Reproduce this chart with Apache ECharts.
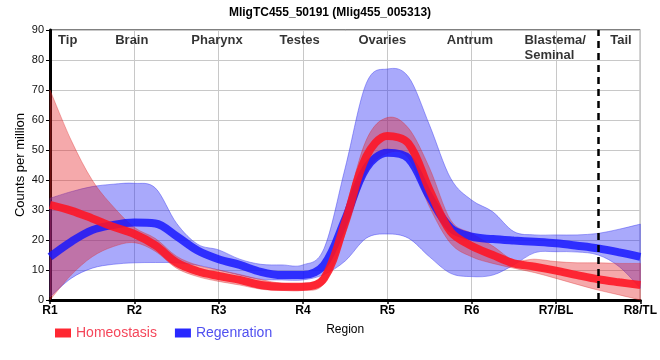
<!DOCTYPE html>
<html>
<head>
<meta charset="utf-8">
<script src="https://cdn.jsdelivr.net/npm/echarts@6/dist/echarts.min.js"></script>
<style>html,body{margin:0;padding:0;background:#fff}#c{width:660px;height:360px}</style>
</head>
<body>
<div id="c"></div>
<script>
// positions along the body (R1 = 0 ... R8 = 7)
const tPos = [0,0.25,0.5,0.75,1,1.25,1.5,1.75,2,2.25,2.5,2.75,3,3.25,3.5,3.75,4,4.25,4.5,4.75,5,5.25,5.5,5.75,6,6.25,6.5,6.75,7];
const xLabels = ['R1','R2','R3','R4','R5','R6','R7/BL','R8/TL'];
const homeo   = [31.7,29.8,27.2,24.4,22.0,18.2,12.5,9.6,8.0,6.7,5.0,4.4,4.4,7.2,26,47.8,54.7,52.2,36.7,22.8,18.0,15.0,12.2,11.1,9.8,8.3,6.9,5.9,5.0];
const homeoUp = [70,53.3,40,31.1,24.2,20.5,14.6,11.6,10.0,8.5,6.8,5.6,5.6,9.0,30,53.3,60.8,57.3,44,26.7,22.2,18.0,13.3,13.6,12.8,12.4,12.4,12.2,12.2];
const homeoLo = [0,8.3,14.4,17.8,19.1,16.2,10.6,7.8,6.2,5.0,3.6,3.2,3.2,5.5,22,42.3,48.9,47.3,31,18.9,14.4,12.2,10.6,9.1,7.2,5.2,3.3,1.7,0];
const regen   = [14.4,19.4,23.3,25.0,25.8,25.5,21.3,16.5,13.6,11.7,9.4,8.3,8.3,11.7,27,44,49.1,47.2,34.4,24,21.1,20.3,19.8,19.4,18.9,18.1,17.2,15.9,14.4];
const regenUp = [33.9,36.1,37.8,38.6,38.9,37.3,25.6,18.6,16.7,13.6,11.9,11.7,11.7,17.2,44,72.2,77,74.4,58.3,40.6,33.3,29.4,22.8,21.7,21.7,21.7,22.2,23.6,25.3];
const regenLo = [1,7.2,10.6,11.9,12.4,12.5,12.4,11.6,10.0,8.3,6.9,6.7,6.7,8.5,13,20.6,22,20.6,14.4,8.9,7.8,8.3,11.7,15.8,16.1,16.0,15.0,11.1,3.9];
const regionNames = ['Tip','Brain','Pharynx','Testes','Ovaries','Antrum','Blastema/\nSeminal','Tail'];
const regionPos   = [0.21,0.97,1.98,2.96,3.94,4.98,5.65,6.77];
const tailBoundary = 6.5;

const RED = 'rgba(255,20,35,0.88)';
const BLUE = 'rgba(20,20,255,0.82)';
const RED_BAND = 'rgba(228,30,35,0.38)';
const BLUE_BAND = 'rgba(40,40,245,0.40)';
const FONT = 'Liberation Sans, Arial, sans-serif';

const pair = (arr) => arr.map((v,i)=>[tPos[i], v]);

// smooth open curve through pixel points (cardinal spline as bezier segments)
function curveSegs(p, k) {
  let s = '';
  const n = p.length;
  for (let i = 0; i < n - 1; i++) {
    const p0 = p[Math.max(i - 1, 0)], p1 = p[i], p2 = p[i + 1], p3 = p[Math.min(i + 2, n - 1)];
    const c1x = p1[0] + (p2[0] - p0[0]) * k, c1y = p1[1] + (p2[1] - p0[1]) * k;
    const c2x = p2[0] - (p3[0] - p1[0]) * k, c2y = p2[1] - (p3[1] - p1[1]) * k;
    s += 'C' + c1x.toFixed(2) + ' ' + c1y.toFixed(2) + ' ' + c2x.toFixed(2) + ' ' + c2y.toFixed(2) + ' ' + p2[0].toFixed(2) + ' ' + p2[1].toFixed(2);
  }
  return s;
}

function bandSeries(name, up, lo, fill, stroke, z) {
  return {
    name: name, type: 'custom', silent: true, z: z,
    data: [[0, 0]],
    renderItem: function (params, api) {
      const top = [], bot = [];
      for (let i = 0; i < tPos.length; i++) top.push(api.coord([tPos[i], up[i]]));
      for (let i = tPos.length - 1; i >= 0; i--) bot.push(api.coord([tPos[i], lo[i]]));
      const k = 0.17;
      const d = 'M' + top[0][0] + ' ' + top[0][1] + curveSegs(top, k) +
                'L' + bot[0][0] + ' ' + bot[0][1] + curveSegs(bot, k) + 'Z';
      return {type: 'path', shape: {pathData: d},
          style: {fill: fill, stroke: stroke, lineWidth: 1}};
    }
  };
}

const chart = echarts.init(document.getElementById('c'));
const SM = 0.35;
chart.setOption({
  animation: false,
  textStyle: {fontFamily: FONT},
  title: {text: 'MligTC455_50191 (Mlig455_005313)', left: 'center', top: 2,
    textStyle: {fontSize: 12, fontWeight: 'bold', color: '#000', fontFamily: FONT}},
  grid: {left: 50, right: 10, top: 30, bottom: 60, show: true, borderColor: '#000', borderWidth: 1, backgroundColor: 'transparent'},
  legend: {left: 50, top: 321, itemWidth: 16, itemHeight: 9, itemGap: 18,
    textStyle: {fontSize: 14, fontFamily: FONT},
    data: [
      {name: 'Homeostasis', icon: 'rect', itemStyle: {color: 'rgb(255,40,50)'}, textStyle: {color: 'rgb(245,70,90)'}},
      {name: 'Regenration', icon: 'rect', itemStyle: {color: 'rgb(40,40,255)'}, textStyle: {color: 'rgb(80,80,240)'}}
    ]},
  xAxis: {type: 'value', min: 0, max: 7, interval: 1,
    name: 'Region', nameLocation: 'middle', nameGap: 24,
    nameTextStyle: {fontSize: 12, color: '#000', fontFamily: FONT},
    axisLine: {onZero: false, lineStyle: {color: '#000', width: 3}},
    axisTick: {show: true, length: 4, lineStyle: {color: '#000', width: 1.5}},
    axisLabel: {fontSize: 12, fontWeight: 'bold', color: '#000', margin: 5, showMaxLabel: true,
      formatter: v => xLabels[Math.round(v)] || ''},
    splitLine: {show: true, lineStyle: {color: '#c8c8c8', width: 1}}},
  yAxis: {type: 'value', min: 0, max: 90, interval: 10,
    name: 'Counts per million', nameLocation: 'middle', nameGap: 23, nameMoveOverlap: false,
    nameTextStyle: {fontSize: 13, color: '#000', fontFamily: FONT},
    axisLine: {show: true, lineStyle: {color: '#000', width: 3}},
    axisTick: {show: true, length: 4, lineStyle: {color: '#000', width: 1}},
    axisLabel: {fontSize: 11, color: '#111', margin: 6},
    splitLine: {show: true, lineStyle: {color: '#c8c8c8', width: 1}}},
  series: [
    bandSeries('regBand', regenUp, regenLo, BLUE_BAND, 'rgba(60,60,240,0.45)', 1),
    bandSeries('homBand', homeoUp, homeoLo, RED_BAND, 'rgba(220,40,40,0.35)', 2),
    {name: 'Regenration', type: 'line', data: pair(regen), smooth: SM, symbol: 'none',
      itemStyle: {color: 'rgb(40,40,255)'}, lineStyle: {color: BLUE, width: 8}, z: 3},
    {name: 'Homeostasis', type: 'line', data: pair(homeo), smooth: SM, symbol: 'none',
      itemStyle: {color: 'rgb(255,40,50)'}, lineStyle: {color: RED, width: 8}, z: 4,
      markLine: {silent: true, symbol: 'none', label: {show: false},
        lineStyle: {color: '#000', type: [7, 5], width: 2.5},
        data: [{xAxis: tailBoundary}]}},
    {name: 'regions', type: 'scatter', symbolSize: 0, silent: true, z: 5,
      data: regionNames.map((n, i) => ({value: [regionPos[i], 90], name: n,
        label: i === 6 ? {align: 'left', offset: [-2, 0]} : {}})),
      label: {show: true, position: 'bottom', distance: 3, formatter: p => p.name,
        fontSize: 13, fontWeight: 'bold', color: '#000', fontFamily: FONT, lineHeight: 15}}
  ]
});
</script>
</body>
</html>
